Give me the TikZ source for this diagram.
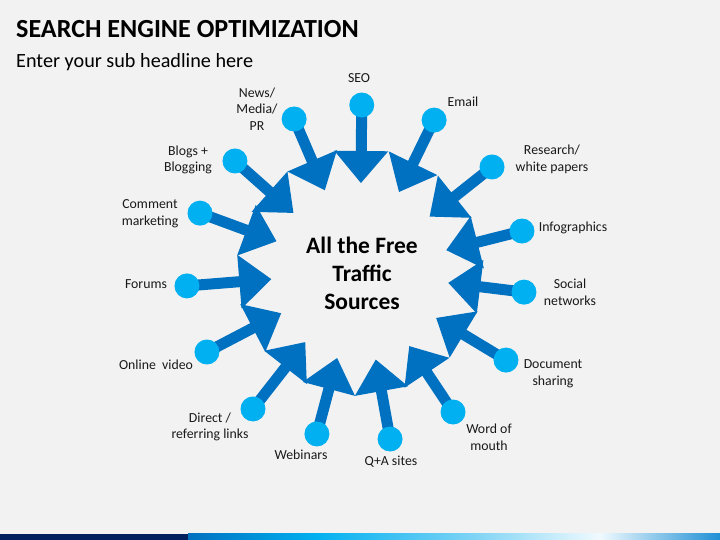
\documentclass[tikz,border=0pt]{standalone}
\usepackage{fontspec}
\setmainfont{Carlito}
\definecolor{arrowc}{HTML}{0070C0}
\definecolor{dotc}{HTML}{00B0F0}
\definecolor{bgc}{HTML}{F2F2F2}
\definecolor{navyc}{HTML}{002060}
\definecolor{midc}{HTML}{80D4F5}
\definecolor{litec}{HTML}{F0FAFE}
\definecolor{endc}{HTML}{1E8FD5}
\pgfdeclarelayer{back}
\pgfdeclarelayer{mid}
\pgfsetlayers{back,mid,main}
\pgfdeclarehorizontalshading{barshade}{100bp}{color(0bp)=(arrowc); color(25bp)=(arrowc); color(37bp)=(dotc); color(52bp)=(midc); color(63.7bp)=(litec); color(75bp)=(endc); color(100bp)=(endc)}
\tikzset{
  dot/.style={circle, fill=dotc, minimum size=25pt, inner sep=0pt},
  shaft/.style={draw=arrowc, line width=11pt},
  head/.style={fill=arrowc},
  lbl/.style={align=center, font=\fontsize{13.8}{16.7}\selectfont, text=black!90, inner sep=0pt},
}
\newcommand\srcarrow[3]{%
  \begin{scope}[shift={(360,268)}, rotate=#2]
    \node[dot] (#1) at (#3,0) {};
    \coordinate (#1b) at (117,0);
    \begin{pgfonlayer}{mid}
      \draw[shaft] (#1.center) -- (#1b);
    \end{pgfonlayer}
    \fill[head] (89,0) -- (121,27) -- (121,-27) -- cycle;
  \end{scope}}
\begin{document}
\begin{tikzpicture}[x=1pt,y=1pt]
  \begin{pgfonlayer}{back}
    \fill[bgc] (0,0) rectangle (720,540);
  \end{pgfonlayer}
  \useasboundingbox (0,0) rectangle (720,540);
  % bottom bar
  \fill[navyc] (0,0) rectangle (188,6);
  \shade[shading=barshade] (188,0) rectangle (720,6);
  % titles
  \node[anchor=base west, inner sep=0pt, font=\fontsize{26.1}{30}\selectfont\bfseries] (title) at (16,502) {SEARCH ENGINE OPTIMIZATION};
  \node[anchor=base west, inner sep=0pt, font=\fontsize{20.2}{24}\selectfont] (sub) at (16,472) {Enter your sub headline here};
  % arrows
  \srcarrow{aseo}{89.4}{167}
  \srcarrow{aemail}{64.0}{169}
  \srcarrow{ares}{38.5}{168.7}
  \srcarrow{ainfo}{14.2}{167.1}
  \srcarrow{asoc}{-7.0}{165.2}
  \srcarrow{adoc}{-31.1}{170.5}
  \srcarrow{aword}{-56.4}{168.1}
  \srcarrow{aqa}{-79.8}{169.7}
  \srcarrow{aweb}{-104.9}{167.6}
  \srcarrow{adir}{-128.0}{173.8}
  \srcarrow{aonl}{-152.4}{172.7}
  \srcarrow{afor}{-175.4}{173.6}
  \srcarrow{acom}{159.8}{170.5}
  \srcarrow{ablog}{138.4}{167.2}
  \srcarrow{anews}{113.3}{166.6}
  % centre text
  \node[align=center, inner sep=0pt, font=\fontsize{23.5}{28.3}\selectfont\bfseries] (centre) at (362,266.5) {All the Free\\Traffic\\Sources};
  % labels
  \node[lbl] (lseo) at (359,462) {SEO};
  \node[lbl] (lemail) at (463,438) {Email};
  \node[lbl] (lres) at (552,381) {Research/\\white papers};
  \node[lbl] (linfo) at (573,312) {Infographics};
  \node[lbl] (lsoc) at (570,248) {Social\\networks};
  \node[lbl] (ldoc) at (553,166) {Document\\sharing};
  \node[lbl] (lword) at (489,103) {Word of\\mouth};
  \node[lbl] (lqa) at (391,78) {Q+A sites};
  \node[lbl] (lweb) at (301,85) {Webinars};
  \node[lbl] (ldir) at (210,113) {Direct /\\referring links};
  \node[lbl] (lonl) at (156,175) {Online\ \ video};
  \node[lbl] (lfor) at (146,256) {Forums};
  \node[lbl] (lcom) at (150,326) {Comment\\marketing};
  \node[lbl] (lblog) at (188,380) {Blogs +\\Blogging};
  \node[lbl] (lnews) at (257,431) {News/\\Media/\\PR};
\end{tikzpicture}
\end{document}
